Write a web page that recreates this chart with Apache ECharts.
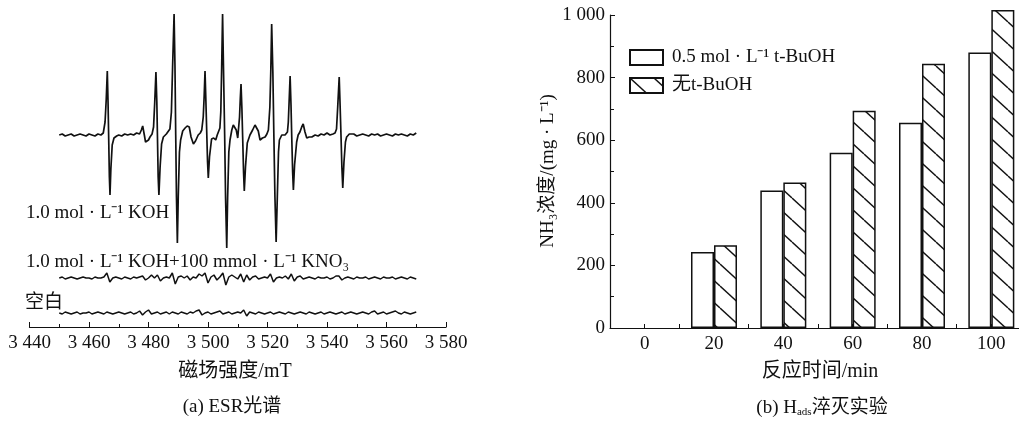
<!DOCTYPE html>
<html>
<head>
<meta charset="utf-8">
<script src="https://cdn.jsdelivr.net/npm/echarts@6/dist/echarts.min.js"></script>
<style>
  html, body { margin: 0; padding: 0; background: #fff; }
  #chart { width: 1019px; height: 422px; }
</style>
</head>
<body>
<div id="chart"></div>
<script>
// ---- (a) ESR 光谱 ----
const fieldTicks = [3440, 3460, 3480, 3500, 3520, 3540, 3560, 3580];
const fieldTickLabels = ['3 440', '3 460', '3 480', '3 500', '3 520', '3 540', '3 560', '3 580'];

// 1.0 mol·L-1 KOH 谱线 [磁场强度, 信号]
const esrKOH = [
  [3450,192],[3451,193],[3452,191],[3453,192],[3454,193],[3455,191],[3456,192],[3457,193],[3458,192],[3459,191],
  [3460,193],[3461,192],[3462,191],[3463,193],[3464,192],
  [3464.8,194],[3465.4,205],[3465.8,228],[3466.15,256],[3466.4,225],[3466.6,192],[3466.85,150],[3467.06,132],
  [3467.35,158],[3467.8,182],[3468.4,189],[3469.3,191],
  [3470,192],[3471,191],[3472,193],[3473,192],[3474,193],[3475,192],[3476,194],[3477,193],
  [3477.6,197],[3478.05,201],[3478.6,192],[3479.0,185],[3479.4,183],[3480,187],[3480.5,190],[3481.2,193],
  [3481.7,200],[3482.1,225],[3482.5,255],[3482.8,225],[3483.0,192],[3483.25,150],[3483.5,132],[3483.9,160],
  [3484.4,183],[3485.0,190],[3486.0,193],[3486.65,195],[3487.2,198],
  [3487.7,215],[3488.1,260],[3488.6,313],[3488.9,260],[3489.15,192],[3489.4,130],[3489.7,84],[3490.0,130],
  [3490.4,175],[3490.8,187],[3491.5,196],[3492.3,199],[3493.0,201],[3493.7,200],[3494.3,190],[3495.1,183],
  [3495.8,186],[3496.7,192],[3497.4,194],[3497.9,197],
  [3498.4,210],[3498.7,230],[3499.0,256],[3499.3,225],[3499.6,192],[3499.85,165],[3500.1,149],[3500.5,170],
  [3501.2,188],[3501.9,189],[3502.6,187],[3503.1,192],[3503.5,194],[3504.0,199],
  [3504.3,215],[3504.6,260],[3504.9,313],[3505.2,260],[3505.6,192],[3505.9,130],[3506.3,79],[3506.6,130],
  [3507.0,175],[3507.4,187],[3508.0,197],[3508.5,202],[3509.0,200],[3509.5,197],[3510.0,189],[3510.35,190],
  [3510.6,210],[3510.85,228],[3511.1,243],[3511.4,218],[3511.65,190],[3511.95,155],[3512.2,136],[3512.6,160],
  [3513.2,184],[3514.1,192],[3515.0,197],[3515.8,202],[3516.4,204],[3516.9,196],[3517.5,187],[3518.3,189],
  [3519.2,190],[3519.8,193],[3520.3,197],
  [3520.8,220],[3521.1,255],[3521.4,303],[3521.8,255],[3522.15,190],[3522.5,130],[3522.9,85],[3523.3,130],
  [3523.7,175],[3524.0,187],[3524.8,192],[3525.4,193],[3525.9,192],[3526.7,195],
  [3527.0,205],[3527.3,228],[3527.6,251],[3527.9,222],[3528.15,190],[3528.45,155],[3528.7,137],[3529.1,162],
  [3529.8,185],[3530.3,192],[3530.9,195],[3531.5,200],[3532.0,203],[3532.6,195],[3533.2,189],[3534.0,190],
  [3534.9,190],[3536,192],[3537,191],[3538,193],[3539,192],[3540,194],[3541,192],[3542,193],[3542.7,194],
  [3543.2,198],[3543.6,220],[3544.1,250],[3544.4,222],[3544.7,192],[3545.0,160],[3545.3,139],[3545.7,165],
  [3546.2,185],[3546.6,190],[3547.5,193],
  [3548,192],[3549,193],[3550,191],[3551,192],[3552,193],[3553,192],[3554,191],[3555,193],[3556,192],[3557,193],
  [3558,191],[3559,192],[3560,193],[3561,192],[3562,191],[3563,193],[3564,192],[3565,193],[3566,192],[3567,191],
  [3568,193],[3569,192],[3570,194]
];

// 另两条谱线共用的磁场强度
const noiseField = [
  3450,3451,3452,3453,3454,3455,3456,3457,3458,3459,
  3460,3461,3462,3463,3464,3465,3466,3467,3468,3469,
  3470,3471,3472,3473,3474,3475,3476,3477,3478,3479,
  3480,3481,3482,3483,3484,3485,3486,3487,3488,3489,
  3490,3491,3492,3493,3494,3495,3496,3497,3498,3499,
  3500,3501,3502,3503,3504,3505,3506,3507,3508,3509,
  3510,3511,3512,3513,3514,3515,3516,3517,3518,3519,
  3520,3521,3522,3523,3524,3525,3526,3527,3528,3529,
  3530,3531,3532,3533,3534,3535,3536,3537,3538,3539,
  3540,3541,3542,3543,3544,3545,3546,3547,3548,3549,
  3550,3551,3552,3553,3554,3555,3556,3557,3558,3559,
  3560,3561,3562,3563,3564,3565,3566,3567,3568,3569,
  3570
];
// KOH + KNO3
const esrKNO3 = [
  49,50,48,49,50,49,48,49,50,49,
  49,48,50,49,49,50,54,45,49,50,
  49,48,50,49,48,50,49,50,51,47,
  49,52,49,52,46,49,50,49,54,43,
  50,51,49,51,47,50,49,53,51,54,
  44,50,52,47,50,54,42,50,52,50,
  48,53,45,52,47,50,51,48,49,50,
  49,53,45,49,50,49,51,48,53,46,
  50,51,48,49,50,49,48,50,49,49,
  50,48,49,51,51,47,49,50,49,48,
  50,49,49,50,48,49,50,49,48,50,
  49,49,50,48,49,50,49,48,50,49,
  48
];
// 空白
const esrBlank = [
  14,13,15,14,13,14,15,13,14,14,
  15,13,14,15,14,13,15,14,13,14,
  15,14,13,14,15,13,14,16,12,15,
  17,13,14,15,13,14,15,13,15,14,
  13,15,14,13,15,14,16,17,12,14,
  15,13,14,15,16,13,14,15,13,14,
  15,14,17,11,15,14,13,15,14,13,
  14,15,13,14,15,14,13,15,14,13,
  14,15,14,13,15,14,13,14,15,13,
  14,15,14,13,14,15,13,14,15,14,
  13,14,15,14,13,15,16,13,14,15,
  13,14,15,16,14,13,15,14,13,14,
  15
];

// ---- (b) Hads 淬灭实验 ----
const timeCats = [0, 20, 40, 60, 80, 100];
const withTBuOH = [0, 243, 439, 560, 656, 880];
const withoutTBuOH = [0, 264, 465, 694, 844, 1016];
const concTicks = [0, 200, 400, 600, 800, 1000];
const concTickLabels = ['0', '200', '400', '600', '800', '1 000'];
const legendNames = ['0.5 mol · L⁻¹ t-BuOH', '无t-BuOH'];

const FONT = "'Liberation Serif', 'Noto Sans CJK SC', serif";
const INK = '#111';

function hatch() {
  const w = 24, h = 22;
  const c = document.createElement('canvas');
  c.width = w; c.height = h;
  const g = c.getContext('2d');
  g.fillStyle = '#fff';
  g.fillRect(0, 0, w, h);
  g.strokeStyle = INK;
  g.lineWidth = 1.4;
  [-h, 0, h].forEach(function (dy) {
    g.beginPath();
    g.moveTo(0, dy);
    g.lineTo(w, dy + h);
    g.stroke();
  });
  return c;
}

function lookup(ticks, labels) {
  return function (v) {
    const i = ticks.indexOf(v);
    return i < 0 ? '' : labels[i];
  };
}

// 高度为 0 的柱子不画边框
function barData(vals) {
  return timeCats.map(function (t, i) {
    return vals[i] === 0
      ? { value: [t, vals[i]], itemStyle: { borderWidth: 0 } }
      : [t, vals[i]];
  });
}

function txt(x, y, text, size, extra) {
  return Object.assign({
    type: 'text', x: x, y: y, silent: true,
    style: { text: text, font: size + 'px ' + FONT, fill: INK, align: 'center', verticalAlign: 'middle' }
  }, extra || {});
}

function leftTxt(x, y, text) {
  return {
    type: 'text', x: x, y: y, silent: true,
    style: { text: text, font: '19px ' + FONT, fill: INK, align: 'left', verticalAlign: 'middle' }
  };
}

const chart = echarts.init(document.getElementById('chart'));

const option = {
  animation: false,
  backgroundColor: '#fff',
  textStyle: { fontFamily: FONT, color: INK },
  grid: [
    { left: 29.5, top: 0, width: 416.5, height: 327, outerBoundsMode: 'none' },
    { left: 610, top: 15, width: 416, height: 313, outerBoundsMode: 'none' }
  ],
  xAxis: [
    {
      gridIndex: 0, type: 'value', min: 3440, max: 3580, interval: 20,
      axisLine: { lineStyle: { color: INK, width: 1.2 } },
      axisTick: { inside: true, length: 5, lineStyle: { color: INK } },
      minorTick: { show: true, splitNumber: 2, length: 3, lineStyle: { color: INK } },
      splitLine: { show: false },
      axisLabel: { fontSize: 19, color: INK, fontFamily: FONT, margin: 7,
        formatter: lookup(fieldTicks, fieldTickLabels) }
    },
    {
      gridIndex: 1, type: 'value', min: -10, max: 110, interval: 10,
      axisLine: { onZero: false, lineStyle: { color: INK, width: 1.2 } },
      axisTick: { inside: true, length: 4, lineStyle: { color: INK } },
      splitLine: { show: false },
      axisLabel: { fontSize: 19, color: INK, fontFamily: FONT, margin: 7,
        formatter: lookup(timeCats, timeCats.map(String)) }
    }
  ],
  yAxis: [
    { gridIndex: 0, type: 'value', min: 0, max: 327, show: false },
    {
      gridIndex: 1, type: 'value', min: 0, max: 1000, interval: 200,
      axisLine: { show: true, onZero: false, lineStyle: { color: INK, width: 1.2 } },
      axisTick: { show: true, inside: true, length: 5, lineStyle: { color: INK } },
      minorTick: { show: true, splitNumber: 2, length: 4, lineStyle: { color: INK } },
      splitLine: { show: false },
      axisLabel: { fontSize: 19, color: INK, fontFamily: FONT, margin: 5,
        formatter: lookup(concTicks, concTickLabels) }
    }
  ],
  legend: {
    left: 629, top: 47.5, orient: 'vertical', padding: 0,
    itemWidth: 33, itemHeight: 15, itemGap: 8, icon: 'rect',
    data: legendNames,
    textStyle: { fontSize: 19, lineHeight: 20, color: INK, fontFamily: FONT, padding: [0, 0, 0, 4] },
    selectedMode: false
  },
  series: [
    {
      type: 'line', xAxisIndex: 0, yAxisIndex: 0, data: esrKOH,
      showSymbol: false, silent: true, lineStyle: { color: INK, width: 1.7 }
    },
    {
      type: 'line', xAxisIndex: 0, yAxisIndex: 0,
      data: noiseField.map(function (f, i) { return [f, esrKNO3[i]]; }),
      showSymbol: false, silent: true, lineStyle: { color: INK, width: 1.5 }
    },
    {
      type: 'line', xAxisIndex: 0, yAxisIndex: 0,
      data: noiseField.map(function (f, i) { return [f, esrBlank[i]]; }),
      showSymbol: false, silent: true, lineStyle: { color: INK, width: 1.5 }
    },
    {
      type: 'bar', name: legendNames[0], xAxisIndex: 1, yAxisIndex: 1,
      data: barData(withTBuOH),
      barWidth: 23, barGap: '0%', clip: false, silent: true,
      itemStyle: { color: '#fff', borderColor: INK, borderWidth: 1.5 }
    },
    {
      type: 'bar', name: legendNames[1], xAxisIndex: 1, yAxisIndex: 1,
      data: barData(withoutTBuOH),
      barWidth: 23, barGap: '0%', clip: false, silent: true,
      itemStyle: { color: { image: hatch(), repeat: 'repeat' }, borderColor: INK, borderWidth: 1.5 }
    }
  ],
  graphic: [
    leftTxt(26, 213, '1.0 mol · L⁻¹ KOH'),
    leftTxt(26, 262, '1.0 mol · L⁻¹ KOH+100 mmol · L⁻¹ KNO₃'),
    leftTxt(25, 303, '空白'),
    txt(235, 372, '磁场强度/mT', 20),
    txt(232, 407, '(a) ESR光谱', 19),
    txt(820, 372, '反应时间/min', 20),
    txt(822, 408, '(b) H{sub|ads}淬灭实验', 19, {
      style: {
        text: '(b) H{sub|ads}淬灭实验', font: '19px ' + FONT, fill: INK, align: 'center', verticalAlign: 'middle',
        rich: { sub: { fontSize: 11, fontFamily: FONT, fill: INK, verticalAlign: 'bottom', lineHeight: 11 } }
      }
    }),
    txt(548, 171, 'NH₃浓度/(mg · L⁻¹)', 19, { rotation: Math.PI / 2 })
  ]
};

chart.setOption(option);
</script>
</body>
</html>
